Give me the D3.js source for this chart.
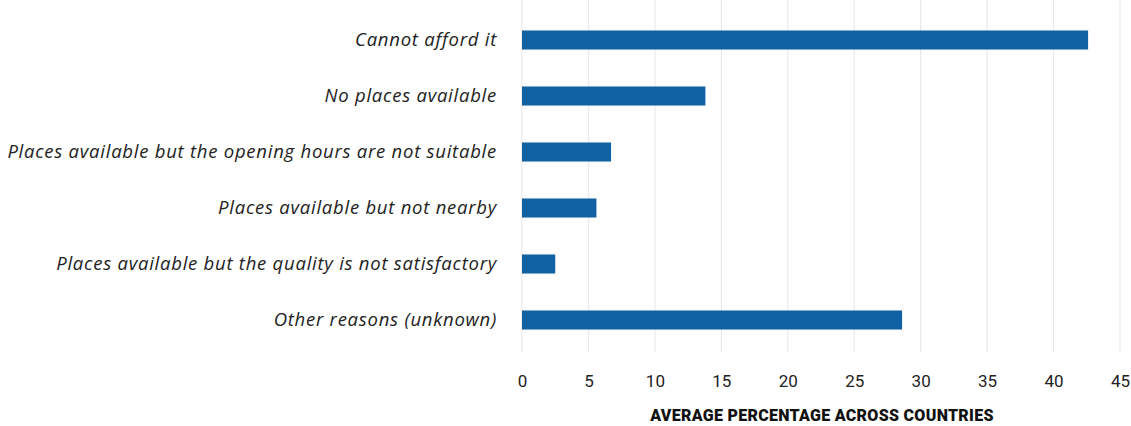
<!DOCTYPE html>
<html>
<head>
<meta charset="utf-8">
<script src="https://cdn.jsdelivr.net/npm/d3@7"></script>
<style>
  body { margin: 0; background: #fff; }
  .lbl { font-family: "Open Sans", sans-serif; font-style: italic; font-size: 18.5px; letter-spacing: 0.75px; fill: #222; }
  .tick text { font-family: "Roboto", sans-serif; font-size: 17px; fill: #222; }
  .ttl { font-family: "Roboto", sans-serif; font-weight: 900; font-size: 16px; letter-spacing: 0.3px; fill: #111; }
</style>
</head>
<body>
<div id="chart"></div>
<script>
var categories = [
  "Cannot afford it",
  "No places available",
  "Places available but the opening hours are not suitable",
  "Places available but not nearby",
  "Places available but the quality is not satisfactory",
  "Other reasons (unknown)"
]
var values = [42.6, 13.8, 6.7, 5.6, 2.5, 28.6]
var xTicks = [0, 5, 10, 15, 20, 25, 30, 35, 40, 45]
var axisTitle = "AVERAGE PERCENTAGE ACROSS COUNTRIES"

var width = 1131, height = 426
var left = 522, right = 1120

var svg = d3.select("#chart").append("svg")
    .attr("width", width)
    .attr("height", height)

var x = d3.scaleLinear().domain([0, 45]).range([left, right])
var y = d3.scaleBand().domain(categories).range([12, 348]).paddingInner(0.66).paddingOuter(0.33)

// gridlines
svg.selectAll(".grid").data(xTicks).enter().append("line")
    .attr("x1", d => x(d)).attr("x2", d => x(d))
    .attr("y1", 0).attr("y2", 352)
    .attr("stroke", "#e9e9e9").attr("stroke-width", 1.2)

// bars
svg.selectAll(".bar").data(values).enter().append("rect")
    .attr("x", x(0))
    .attr("y", (d, i) => y(categories[i]))
    .attr("width", d => x(d) - x(0))
    .attr("height", y.bandwidth())
    .attr("fill", "#1161a5")

// category labels
svg.selectAll(".lbl").data(categories).enter().append("text")
    .attr("class", "lbl")
    .attr("x", 497)
    .attr("y", d => y(d) + y.bandwidth() / 2)
    .attr("dy", "0.35em")
    .attr("text-anchor", "end")
    .text(d => d)

// x axis
var axis = d3.axisBottom(x).tickValues(xTicks).tickSize(0).tickPadding(0)
var g = svg.append("g").attr("transform", "translate(0,375)").call(axis)
g.select(".domain").remove()
g.selectAll(".tick text").attr("dy", "0.7em")

svg.append("text")
    .attr("class", "ttl")
    .attr("x", 822)
    .attr("y", 421)
    .attr("text-anchor", "middle")
    .text(axisTitle)
</script>
</body>
</html>
